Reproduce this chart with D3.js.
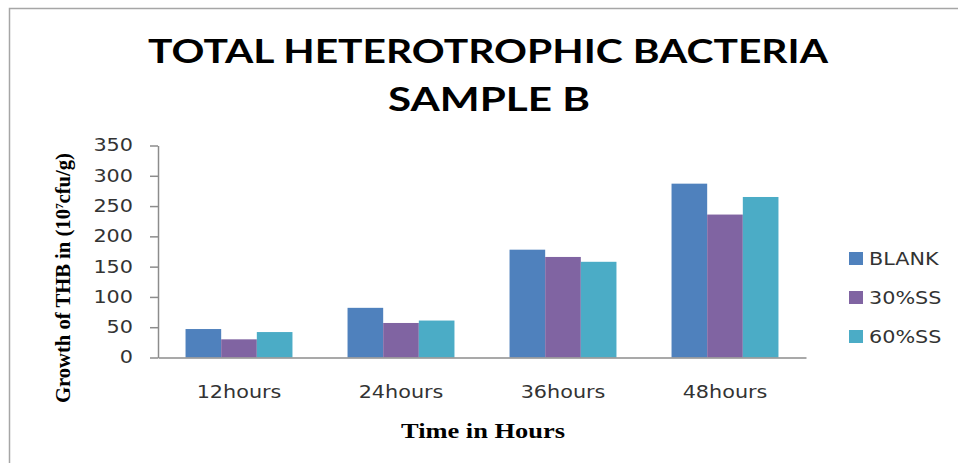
<!DOCTYPE html>
<html>
<head>
<meta charset="utf-8">
<script src="https://cdn.jsdelivr.net/npm/d3@7"></script>
<style>
  body { margin: 0; background: #fff; }
  svg { display: block; }
</style>
</head>
<body>
<div id="chart"></div>
<script>
// --- data ---
const categories = ['12hours', '24hours', '36hours', '48hours'];
const seriesNames = ['BLANK', '30%SS', '60%SS'];
const blank = [47, 82, 178, 287];
const ss30 = [30, 57, 166, 236];
const ss60 = [42, 61, 158, 265];
const yTicks = [0, 50, 100, 150, 200, 250, 300, 350];

const colors = ['#4f81bd', '#8064a2', '#4bacc6'];
const seriesValues = [blank, ss30, ss60];

const width = 958, height = 463;

const svg = d3.select('#chart')
    .append('svg')
        .attr('width', width)
        .attr('height', height);

// stretch text horizontally (glyphs in the picture are wide)
function stretch(sel, k) {
    sel.each(function() {
        const w = this.getComputedTextLength();
        d3.select(this)
            .attr('textLength', w * k)
            .attr('lengthAdjust', 'spacingAndGlyphs');
    });
}

// outer frame
svg.append('rect')
    .attr('x', 9.5)
    .attr('y', 8.5)
    .attr('width', 980)
    .attr('height', 480)
    .attr('fill', 'none')
    .attr('stroke', '#a6a6a6')
    .attr('stroke-width', 1.5);

// --- title ---
const title = svg.append('g')
    .attr('font-family', 'Lato, "Open Sans", sans-serif')
    .attr('font-weight', 'bold')
    .attr('font-size', 33)
    .attr('fill', '#000')
    .attr('text-anchor', 'middle');

title.append('text')
    .attr('x', 488)
    .attr('y', 63)
    .attr('textLength', 680)
    .attr('lengthAdjust', 'spacingAndGlyphs')
    .text('TOTAL HETEROTROPHIC BACTERIA');

title.append('text')
    .attr('x', 489)
    .attr('y', 111)
    .attr('textLength', 202)
    .attr('lengthAdjust', 'spacingAndGlyphs')
    .text('SAMPLE B');

// --- scales ---
const x0 = d3.scaleBand()
    .domain(categories)
    .range([158, 806])
    .paddingInner(0.34)
    .paddingOuter(0.17);

const x1 = d3.scaleBand()
    .domain(seriesNames)
    .range([0, x0.bandwidth()]);

const y = d3.scaleLinear()
    .domain([0, 350])
    .range([357.5, 145.5]);

// --- bars ---
const groups = svg.append('g')
    .selectAll('g')
    .data(categories)
    .join('g')
        .attr('transform', d => `translate(${x0(d)},0)`);

groups.selectAll('rect')
    .data((c, i) => seriesNames.map((s, j) => ({ s: s, v: seriesValues[j][i], c: colors[j] })))
    .join('rect')
        .attr('x', d => x1(d.s))
        .attr('y', d => y(d.v))
        .attr('width', x1.bandwidth())
        .attr('height', d => y(0) - y(d.v))
        .attr('fill', d => d.c);

// --- y axis ---
const yAxis = svg.append('g')
    .attr('transform', 'translate(158,0)')
    .call(d3.axisLeft(y).tickValues(yTicks).tickSize(8).tickSizeOuter(0).tickPadding(17));

yAxis.selectAll('path, line')
    .attr('stroke', '#8c8c8c')
    .attr('stroke-width', 1.5);

yAxis.selectAll('text')
    .attr('font-family', '"DejaVu Sans", sans-serif')
    .attr('font-size', 17)
    .attr('fill', '#333')
    .call(stretch, 1.22);

// --- x axis line ---
const xAxis = svg.append('g')
    .attr('transform', `translate(0,${y(0)})`)
    .call(d3.axisBottom(x0).tickSize(0).tickPadding(28));

xAxis.select('.domain')
    .attr('stroke', '#8c8c8c')
    .attr('stroke-width', 1.5);

xAxis.selectAll('text')
    .attr('font-family', '"DejaVu Sans", sans-serif')
    .attr('font-size', 17)
    .attr('fill', '#333')
    .call(stretch, 1.22);

// --- axis titles ---
svg.append('text')
    .attr('transform', 'translate(70,278) rotate(-90)')
    .attr('text-anchor', 'middle')
    .attr('font-family', '"Liberation Serif", "Times New Roman", serif')
    .attr('font-weight', 'bold')
    .attr('font-size', 20)
    .attr('textLength', 250)
    .attr('lengthAdjust', 'spacingAndGlyphs')
    .html('Growth of THB in (10<tspan dy="-7" font-size="11">7</tspan><tspan dy="7">cfu/g)</tspan>');

svg.append('text')
    .attr('x', 483)
    .attr('y', 438)
    .attr('text-anchor', 'middle')
    .attr('font-family', '"Liberation Serif", "Times New Roman", serif')
    .attr('font-weight', 'bold')
    .attr('font-size', 20)
    .attr('textLength', 164)
    .attr('lengthAdjust', 'spacingAndGlyphs')
    .text('Time in Hours');

// --- legend ---
const legend = svg.append('g')
    .selectAll('g')
    .data(seriesNames)
    .join('g')
        .attr('transform', (d, i) => `translate(849,${252 + i * 39})`);

legend.append('rect')
    .attr('width', 14)
    .attr('height', 13)
    .attr('fill', (d, i) => colors[i]);

legend.append('text')
    .attr('x', 20)
    .attr('y', 7)
    .attr('dy', '0.35em')
    .attr('font-family', '"DejaVu Sans", sans-serif')
    .attr('font-size', 17)
    .attr('fill', '#333')
    .text(d => d)
    .call(stretch, 1.22);
</script>
</body>
</html>
